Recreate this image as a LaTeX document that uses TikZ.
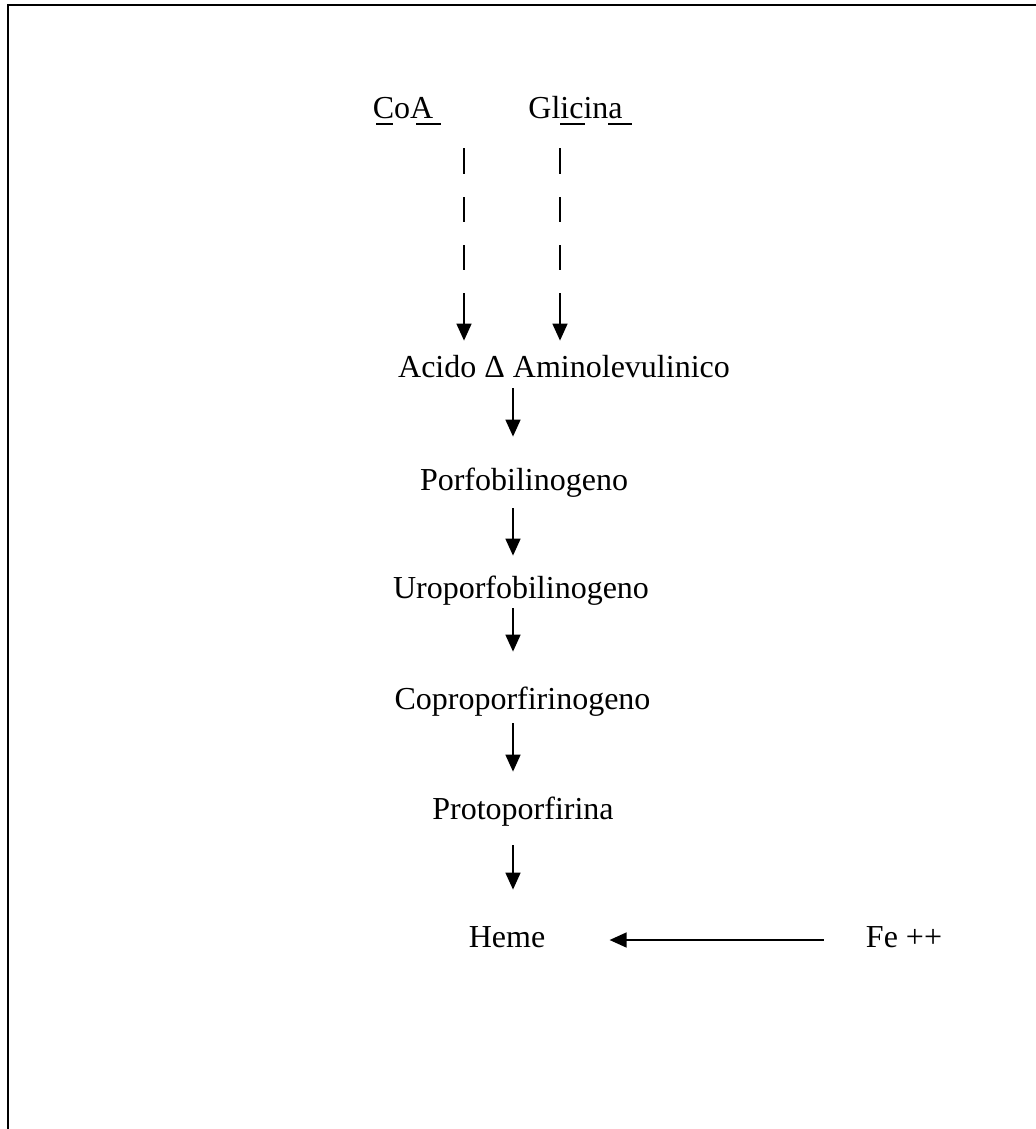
\documentclass[tikz,border=0pt]{standalone}
\usepackage{fontspec}
\setmainfont{Liberation Serif}
\usetikzlibrary{arrows.meta}
\begin{document}
\begin{tikzpicture}[x=0.5pt,y=-0.5pt,
  lbl/.style={inner sep=0pt, anchor=base, text height=10.5pt, text depth=3.5pt, font=\fontsize{16pt}{19pt}\selectfont},
  arr/.style={line width=0.8pt, -{Triangle[length=8.5pt,width=7.5pt]}},
  dasharr/.style={arr, dash pattern=on 13pt off 11.5pt on 12.5pt off 11.5pt on 12.5pt off 11.5pt on 60pt},
  uline/.style={line width=0.75pt},
  frame/.style={line width=1pt}]
\useasboundingbox (0,0) rectangle (1036,1129);
\draw[frame] (8,1129) -- (8,5) -- (1036,5);

\node[lbl] (coa) at (403,119) {CoA};
\node[lbl] (gli) at (575.5,119) {Glicina};
\node[lbl] (ala) at (564,377) {Acido Δ Aminolevulinico};
\node[lbl] (por) at (524,490) {Porfobilinogeno};
\node[lbl] (uro) at (521,598) {Uroporfobilinogeno};
\node[lbl] (cop) at (522.5,709) {Coproporfirinogeno};
\node[lbl] (pro) at (523,819) {Protoporfirina};
\node[lbl] (hem) at (507,947) {Heme};
\node[lbl] (fe) at (904,947) {Fe ++};

% underlines
\draw[uline] (376,124) -- (393,124);
\draw[uline] (416,124) -- (441,124);
\draw[uline] (560,124) -- (585,124);
\draw[uline] (608,124) -- (632,124);

\coordinate (c1) at (464,0);
\coordinate (c2) at (560,0);
\coordinate (c3) at (513,0);

\draw[dasharr, shorten <=11pt, shorten >=7.5pt] (coa.south -| c1) -- (ala.north -| c1);
\draw[dasharr, shorten <=11pt, shorten >=7.5pt] (gli.south -| c2) -- (ala.north -| c2);

\draw[arr, shorten <=2pt, shorten >=16pt] (ala.south -| c3) -- (por.north -| c3);
\draw[arr, shorten <=5.5pt, shorten >=10.5pt] (por.south -| c3) -- (uro.north -| c3);
\draw[arr, shorten <=1.5pt, shorten >=18pt] (uro.south -| c3) -- (cop.north -| c3);
\draw[arr, shorten <=3.5pt, shorten >=13pt] (cop.south -| c3) -- (pro.north -| c3);
\draw[arr, shorten <=9.5pt, shorten >=18pt] (pro.south -| c3) -- (hem.north -| c3);
\draw[arr, shorten <=21pt, shorten >=32pt] (fe.west) -- (hem.east);
\end{tikzpicture}
\end{document}
